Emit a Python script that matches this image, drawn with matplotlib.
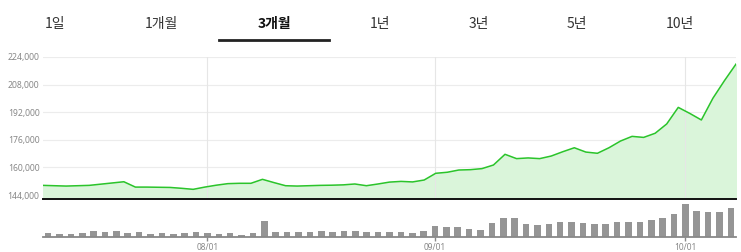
import matplotlib.pyplot as plt
import matplotlib.transforms as mtransforms
import numpy as np

# 기간 탭
tabs = ['1일', '1개월', '3개월', '1년', '3년', '5년', '10년']
tab_sel = '3개월'

# 종가 (61 거래일)
price = [149600, 149400, 149200, 149400, 149600, 150300, 151000, 151700, 148600, 148600,
         148500, 148400, 147900, 147300, 148600, 149700, 150600, 150800, 150800, 153100,
         151200, 149400, 149200, 149400, 149600, 149700, 149900, 150400, 149400, 150400,
         151500, 151900, 151600, 152700, 156600, 157200, 158500, 158700, 159300, 161400,
         167600, 165100, 165500, 165100, 166600, 169100, 171400, 168900, 168200, 171400,
         175300, 178000, 177400, 179800, 185200, 194800, 191300, 187500, 200100, 210300,
         219900]

# 거래량 (천주)
volume = [129, 81, 81, 129, 171, 141, 171, 129, 150, 99,
          111, 90, 111, 159, 129, 90, 129, 69, 120, 489,
          159, 141, 159, 159, 189, 159, 189, 189, 150, 141,
          159, 150, 111, 180, 321, 300, 291, 240, 210, 411,
          561, 561, 390, 360, 390, 450, 459, 429, 381, 381,
          459, 459, 459, 501, 570, 690, 990, 780, 750, 750,
          861]

yticks = [144000, 160000, 176000, 192000, 208000, 224000]
date_idx = [14, 34, 56]
date_labels = ['08/01', '09/01', '10/01']

W, H = 741, 252
fig = plt.figure(figsize=(W / 100, H / 100), dpi=100)

# 탭
tab_x = [55, 161, 274, 380, 479, 577, 680]
for t, x in zip(tabs, tab_x):
    sel = t == tab_sel
    fig.text(x / W, 1 - 24 / H, t, ha='center', va='center', fontsize=10,
             family=['Noto Sans CJK KR', 'DejaVu Sans'],
             fontweight='bold' if sel else 'normal',
             color='#111111' if sel else '#333333')
fig.add_artist(plt.Line2D([219 / W, 329 / W], [1 - 39.5 / H, 1 - 39.5 / H],
                          color='#222222', lw=2))

x = np.arange(len(price))

# 가격 차트
ax = fig.add_axes([43 / W, (H - 199) / H, 693 / W, 142 / H])
ymin = 141700
ax.plot(x, price, color='#2bc42b', lw=1.1, zorder=3)
ax.fill_between(x, price, ymin, color='#daf5da', zorder=2)
ax.set_xlim(0, len(price) - 1)
ax.set_ylim(ymin, 224000)
ax.set_yticks(yticks)
ax.set_yticklabels([f'{v:,}' for v in yticks])
ax.tick_params(axis='y', length=0, pad=2.5, labelsize=6.2, labelcolor='#888888')
ax.tick_params(axis='x', length=0, labelbottom=False)
ax.set_xticks([])
for lab in ax.get_yticklabels():
    lab.set_family('Noto Sans')
ax.grid(axis='y', color='#ececec', lw=0.8, zorder=1)
for s in ['top', 'right', 'left']:
    ax.spines[s].set_visible(False)
ax.spines['bottom'].set_color('#111111')
ax.spines['bottom'].set_linewidth(1.4)
ax.spines['bottom'].set_zorder(5)

# 거래량 차트
av = fig.add_axes([43 / W, (H - 237) / H, 693 / W, 38 / H])
av.bar(x, volume, width=0.58, color='#959595', zorder=2)
av.set_xlim(-0.45, len(volume) - 0.55)
av.set_ylim(0, 1140)
av.set_yticks([])
av.set_xticks(date_idx)
av.set_xticklabels(date_labels, family='Noto Sans', fontsize=6, color='#888888')
av.tick_params(axis='x', length=3, width=1, color='#888888', pad=1.5)
for s in ['top', 'right', 'left']:
    av.spines[s].set_visible(False)
av.spines['bottom'].set_color('#888888')
av.spines['bottom'].set_linewidth(1.3)
av.patch.set_alpha(0)

# 가격 차트 세로 격자 (거래량 축의 날짜 위치)
trans = mtransforms.blended_transform_factory(av.transData, ax.transAxes)
for i in date_idx:
    ax.plot([i, i], [0, 1], transform=trans, color='#e6e6e6', lw=0.8, zorder=2.5)

fig.savefig('out.png', dpi=100)
